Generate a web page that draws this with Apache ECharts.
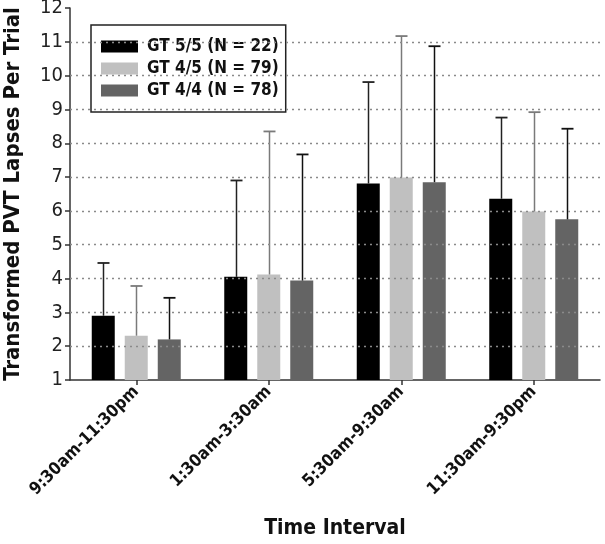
<!DOCTYPE html>
<html><head><meta charset="utf-8">
<script src="https://cdn.jsdelivr.net/npm/echarts@6/dist/echarts.min.js"></script>
<style>html,body{margin:0;padding:0;background:#fff}#c{width:605px;height:544px}</style>
</head><body><div id="c"></div>
<script>
const categories = ['9:30am-11:30pm','1:30am-3:30am','5:30am-9:30am','11:30am-9:30pm'];
const seriesNames = ['GT 5/5 (N = 22)','GT 4/5 (N = 79)','GT 4/4 (N = 78)'];
const means_55 = [2.90, 4.05, 6.81, 6.36];
const means_45 = [2.31, 4.12, 6.99, 5.98];
const means_44 = [2.20, 3.94, 6.85, 5.75];
const upper_55 = [4.46, 6.90, 9.81, 8.76];
const upper_45 = [3.78, 8.35, 11.17, 8.92];
const upper_44 = [3.43, 7.67, 10.87, 8.43];
const gridValues = [2,3,4,5,6,7,8,9,10,11];

const colors = ['#000000','#c0c0c0','#646464'];
const errColors = ['#222222','#7a7a7a','#111111'];
const FONT = '"DejaVu Sans Condensed","Liberation Sans",Arial,sans-serif';
const BW = 23, GAP = 10;
const means = [means_55, means_45, means_44];
const uppers = [upper_55, upper_45, upper_44];

const series = [];
means.forEach((m, i) => {
  series.push({
    name: seriesNames[i], type: 'bar', data: m, barWidth: BW, barGap: (GAP/BW*100)+'%',
    itemStyle: {color: colors[i]}, z: 2,
    markLine: i === 0 ? {
      silent: true, symbol: 'none', label: {show: false},
      lineStyle: {type: [2, 4], color: '#8a8a8a', width: 1.3},
      data: gridValues.map(v => ({yAxis: v}))
    } : undefined
  });
});
uppers.forEach((u, i) => {
  const off = (i - 1) * (BW + GAP);
  series.push({
    type: 'custom', name: seriesNames[i] + ' err', z: 3,
    data: u.map((v, k) => [k, means[i][k], v]),
    renderItem: function (params, api) {
      const base = api.coord([api.value(0), api.value(1)]);
      const top = api.coord([api.value(0), api.value(2)]);
      const x = Math.round(base[0] + off) + 0.5;
      const cap = 6;
      return {
        type: 'group',
        children: [
          {type: 'line', shape: {x1: x, y1: base[1], x2: x, y2: top[1]}, style: {stroke: errColors[i], lineWidth: 1.5}},
          {type: 'line', shape: {x1: x - cap, y1: top[1], x2: x + cap, y2: top[1]}, style: {stroke: errColors[i], lineWidth: 1.8}}
        ]
      };
    }
  });
});

const chart = echarts.init(document.getElementById('c'), null, {renderer: 'canvas'});
chart.setOption({
  animation: false,
  backgroundColor: '#fff',
  grid: {left: 70, right: 5, top: 8, bottom: 164, outerBoundsMode: 'none', containLabel: false},
  legend: {
    data: seriesNames, orient: 'vertical', left: 91, top: 25,
    width: 195, itemWidth: 37, itemHeight: 12, itemGap: 5,
    icon: 'rect', borderColor: '#222', borderWidth: 1.5,
    padding: [13, 7, 13, 10],
    textStyle: {fontFamily: FONT, fontWeight: 'bold', fontSize: 17, color: '#111', padding: [0, 0, 0, 4]}
  },
  xAxis: {
    type: 'category', data: categories,
    axisLine: {lineStyle: {color: '#333', width: 1.5}},
    axisTick: {show: true, alignWithLabel: true, length: 5, lineStyle: {color: '#333', width: 1.5}},
    axisLabel: {rotate: 45, fontFamily: FONT, fontWeight: 'bold', fontSize: 17, color: '#111', margin: 9, interval: 0},
    name: 'Time Interval', nameLocation: 'middle', nameGap: 138,
    nameTextStyle: {fontFamily: FONT, fontWeight: 'bold', fontSize: 21, color: '#111'}
  },
  yAxis: {
    type: 'value', min: 1, max: 12, interval: 1,
    axisLine: {show: true, lineStyle: {color: '#333', width: 1.5}},
    axisTick: {show: true, length: 5, lineStyle: {color: '#333', width: 1.5}},
    splitLine: {show: false},
    axisLabel: {fontFamily: FONT, fontSize: 20, color: '#222', margin: 7},
    name: 'Transformed PVT Lapses Per Trial', nameLocation: 'middle', nameGap: 46,
    nameTextStyle: {fontFamily: FONT, fontWeight: 'bold', fontSize: 22, color: '#111'}
  },
  series: series
});
</script></body></html>
